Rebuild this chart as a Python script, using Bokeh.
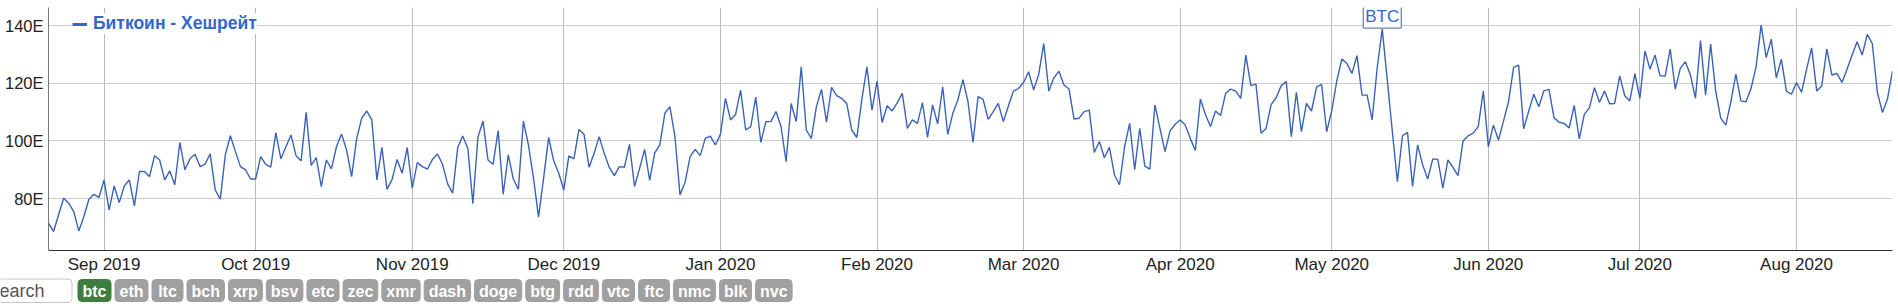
import pandas as pd
from bokeh.plotting import figure
from bokeh.models import (Range1d, FixedTicker, PrintfTickFormatter, DatetimeTickFormatter,
                          MonthsTicker, Legend, LegendItem, Label)
from bokeh.core.properties import value
from bokeh.embed import file_html
from bokeh.resources import INLINE

# ---------------- data ----------------
start_date = "2019-08-21"
series_name = "Биткоин - Хешрейт"
hashrate = [
    71.5, 68.6, 74.4, 80.1, 78.4, 75.5, 68.8, 73.8, 79.8, 81.5,
    80.4, 86.5, 76.1, 84.4, 78.6, 84.4, 86.5, 77.5, 89.4, 89.4,
    87.6, 94.9, 93.4, 86.5, 89.6, 84.8, 99.5, 90.0, 93.8, 95.4,
    91.1, 92.0, 95.5, 83.0, 79.8, 95.2, 101.8, 96.3, 91.1, 90.0,
    86.8, 86.8, 94.6, 91.9, 90.9, 102.9, 93.8, 98.0, 102.1, 94.9,
    93.1, 109.9, 91.5, 94.2, 84.2, 93.4, 90.3, 98.0, 102.4, 96.9,
    87.6, 100.8, 107.9, 110.4, 107.3, 86.5, 97.8, 83.2, 86.6, 93.6,
    88.8, 97.7, 83.6, 92.5, 91.1, 90.2, 93.6, 95.5, 91.9, 85.1,
    81.9, 97.7, 101.7, 97.5, 78.2, 101.3, 106.9, 93.4, 91.9, 103.6,
    81.5, 95.2, 86.8, 83.3, 106.9, 98.6, 87.1, 73.6, 87.1, 101.2,
    93.1, 88.8, 83.0, 94.8, 93.8, 104.0, 102.3, 90.9, 95.7, 101.5,
    95.7, 90.8, 88.0, 91.1, 90.9, 98.8, 84.2, 90.5, 97.1, 86.3,
    95.9, 98.6, 109.6, 111.9, 101.5, 81.3, 85.6, 94.6, 97.1, 94.9,
    100.9, 101.7, 98.6, 102.3, 114.8, 107.3, 109.2, 117.6, 103.8, 105.0,
    115.2, 99.5, 106.7, 106.7, 110.2, 105.0, 92.8, 113.0, 106.7, 125.7,
    103.8, 100.9, 111.9, 117.9, 106.5, 118.6, 115.7, 114.8, 113.0, 103.8,
    101.2, 114.5, 125.7, 110.7, 120.8, 106.4, 112.2, 110.4, 113.3, 116.5,
    104.4, 107.3, 106.1, 113.3, 101.2, 112.5, 105.9, 118.8, 102.3, 109.6,
    114.2, 121.3, 113.6, 99.5, 115.4, 114.4, 107.5, 110.2, 113.0, 106.7,
    112.1, 117.3, 118.2, 120.3, 124.0, 117.7, 123.1, 133.8, 117.3, 121.9,
    124.2, 119.4, 118.0, 107.6, 107.9, 110.2, 110.7, 96.0, 99.8, 94.2,
    97.8, 88.2, 84.8, 98.0, 106.1, 90.0, 104.4, 91.3, 90.2, 112.5,
    104.4, 96.3, 103.5, 105.8, 107.3, 105.5, 100.9, 96.7, 114.5, 109.2,
    105.0, 110.4, 108.8, 116.5, 118.0, 117.3, 114.8, 129.8, 119.2, 119.7,
    102.7, 104.3, 112.6, 115.0, 119.2, 120.6, 101.5, 116.9, 103.2, 113.0,
    110.4, 118.8, 119.6, 103.2, 110.4, 120.8, 128.4, 126.9, 123.4, 129.6,
    115.9, 115.9, 107.3, 125.4, 138.8, 121.1, 103.2, 85.9, 101.8, 103.0,
    84.2, 98.6, 91.7, 86.8, 93.8, 93.6, 83.6, 93.4, 90.8, 88.0,
    100.0, 101.8, 102.7, 105.0, 117.3, 98.0, 105.5, 100.3, 106.9, 113.6,
    125.5, 126.3, 104.2, 110.4, 116.2, 111.9, 117.4, 117.9, 108.1, 106.5,
    106.1, 104.5, 112.3, 100.7, 109.2, 111.5, 118.5, 113.4, 117.3, 112.9,
    113.0, 122.6, 115.7, 113.9, 123.4, 114.8, 131.2, 124.9, 129.8, 122.6,
    122.5, 131.9, 118.0, 125.2, 127.5, 122.9, 114.8, 134.8, 115.9, 133.6,
    117.3, 107.9, 105.5, 113.6, 123.2, 113.9, 113.6, 118.2, 125.8, 140.2,
    128.9, 135.3, 121.9, 128.4, 117.3, 116.2, 120.3, 116.9, 124.9, 132.3,
    117.3, 119.1, 131.9, 122.9, 123.4, 120.3, 124.9, 129.8, 134.4, 129.8,
    137.0, 133.8, 116.9, 109.9, 114.5, 124.2,
]
y_ticks = [80, 100, 120, 140]
y_tick_format = "%dE"
annotation_date = "2020-05-11"
annotation_text = "BTC"
coins = ["btc", "eth", "ltc", "bch", "xrp", "bsv", "etc", "zec", "xmr",
         "dash", "doge", "btg", "rdd", "vtc", "ftc", "nmc", "blk", "nvc"]
active_coin = "btc"
search_placeholder = "Search"

dates = pd.date_range(start_date, periods=len(hashrate), freq="D")

# ---------------- styles ----------------
FONT = "Liberation Sans"
BLUE = "#3366cc"
LINE_BLUE = "#3a63b8"

p = figure(width=1898, height=276, x_axis_type="datetime",
           output_backend="svg", toolbar_location=None,
           x_range=Range1d(dates[0], dates[-1]), y_range=Range1d(62, 146.3),
           min_border_left=48, min_border_right=6, min_border_top=7,
           min_border_bottom=25)
p.outline_line_color = None
p.background_fill_color = "white"

line = p.line(dates, hashrate, line_color=LINE_BLUE, line_width=1.4)

p.xaxis.ticker = MonthsTicker(months=list(range(12)))
fmt = "%b %Y"
p.xaxis.formatter = DatetimeTickFormatter(months=fmt, days=fmt, years=fmt,
                                          hours=fmt, minutes=fmt)
p.yaxis.ticker = FixedTicker(ticks=y_ticks)
p.yaxis.formatter = PrintfTickFormatter(format=y_tick_format)

for ax in (p.xaxis[0], p.yaxis[0]):
    ax.major_tick_out = 0
    ax.major_tick_in = 0
    ax.minor_tick_out = 0
    ax.minor_tick_in = 0
    ax.major_label_text_font = FONT
    ax.major_label_text_color = "#222222"
p.xaxis.major_label_text_font_size = "17px"
p.yaxis.major_label_text_font_size = "16.5px"
p.xaxis.axis_line_color = "#333333"
p.yaxis.axis_line_color = "#777777"
p.xaxis.major_label_standoff = 4
p.yaxis.major_label_standoff = 5

p.xgrid.grid_line_color = "#bbbbbb"
p.ygrid.grid_line_color = "#cccccc"

# legend (swatch drawn from a one-point, out-of-view line so it is thick)
dummy = p.line(x=[dates[0]], y=[0], line_color=BLUE, line_width=3)
legend = Legend(items=[LegendItem(label=series_name, renderers=[dummy])],
                location=(24, 216), padding=4, margin=0, spacing=0,
                glyph_width=15, glyph_height=20, label_standoff=6,
                label_text_font=FONT, label_text_font_size="17.5px",
                label_text_font_style="bold", label_text_color=BLUE,
                border_line_color=None, background_fill_color="white",
                background_fill_alpha=1.0)
p.add_layout(legend)

# annotation
ai = dates.get_loc(pd.Timestamp(annotation_date))
ann = Label(x=dates[ai].timestamp() * 1000, y=hashrate[ai], text=annotation_text,
            text_align="center", text_baseline="bottom", y_offset=1,
            text_font=FONT, text_font_size="17px", text_color=BLUE,
            border_line_color="#44679a", border_line_width=1,
            background_fill_color="white", background_fill_alpha=1.0,
            padding=2)
p.add_layout(ann)

# ---------------- button bar ----------------
bar = figure(width=1898, height=30, x_range=Range1d(0, 1898), y_range=Range1d(306, 276),
             output_backend="svg", toolbar_location=None, min_border=0,
             x_axis_location=None, y_axis_location=None)
bar.grid.visible = False
bar.outline_line_color = None

# search box
bar.quad(left=[-10], right=[71.5], top=[278.5], bottom=[302], fill_color="white",
         line_color="#c8c8c8", line_width=1, border_radius=4)
bar.text(x=[-13], y=[290.5], text=[search_placeholder], text_font=value(FONT),
         text_font_size="18px", text_color="#555555", text_align="left",
         text_baseline="middle")

cw = dict(a=.556, b=.611, c=.556, d=.611, e=.556, f=.333, g=.611, h=.611,
          k=.556, l=.278, m=.889, n=.611, o=.611, p=.611, r=.389, s=.556,
          t=.333, v=.556, x=.556, z=.5)
fs = 16
gap = 4
lefts, rights, centers = [], [], []
cur = 77.5
for c in coins:
    w = max(31.0, fs * sum(cw.get(ch, .6) for ch in c) + 9)
    lefts.append(cur)
    rights.append(cur + w)
    centers.append(cur + w / 2)
    cur += w + gap
colors = ["#3d7d3d" if c == active_coin else "#a0a0a0" for c in coins]
bar.quad(left=lefts, right=rights, top=[279] * len(coins), bottom=[301] * len(coins),
         fill_color=colors, line_color=colors, border_radius=4)
bar.text(x=centers, y=[290.5] * len(coins), text=coins, text_font=value(FONT),
         text_font_size=f"{fs}px", text_font_style="bold", text_color="white",
         text_align="center", text_baseline="middle")

open("out.html", "w").write(file_html([p, bar], INLINE))
